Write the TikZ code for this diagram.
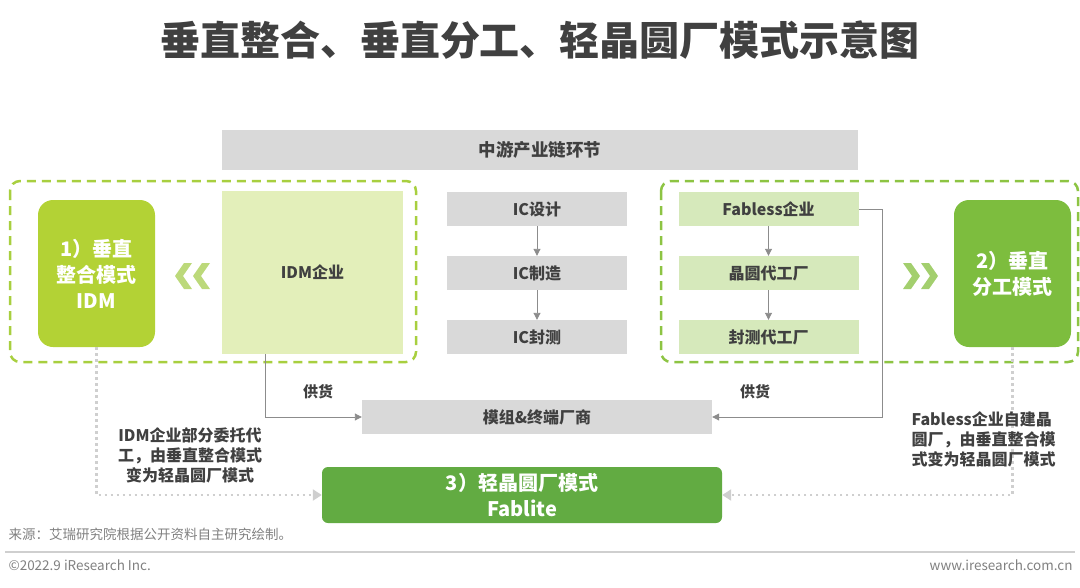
\documentclass[tikz,border=0pt]{standalone}
\usepackage{fontspec}
\setmainfont{Noto Sans CJK SC}
\usetikzlibrary{arrows.meta,positioning}

\definecolor{txtgray}{HTML}{404040}
\definecolor{boxgray}{HTML}{D9D9D9}
\definecolor{idmfill}{HTML}{E3EFBA}
\definecolor{fabfill}{HTML}{D6E9BB}
\definecolor{idmgreen}{HTML}{B3D235}
\definecolor{divgreen}{HTML}{7DBD3E}
\definecolor{litegreen}{HTML}{62AB42}
\definecolor{dashleft}{HTML}{A8CF3F}
\definecolor{dashright}{HTML}{8DC443}
\definecolor{chevleft}{HTML}{BCD97A}
\definecolor{chevright}{HTML}{A3CF6E}
\definecolor{linegray}{HTML}{8C8C8C}
\definecolor{dotgray}{HTML}{CFCFCF}
\definecolor{footgray}{HTML}{808080}

\begin{document}
\begin{tikzpicture}[x=1pt,y=-1pt,
  boxtext/.style={font=\bfseries\fontsize{16}{19}\selectfont, text=txtgray},
  stagebox/.style={boxtext, fill=boxgray, minimum width=180pt, minimum height=34pt, inner sep=0pt},
  fabbox/.style={stagebox, fill=fabfill},
  modebox/.style={font=\bfseries\fontsize{20}{26}\selectfont, text=white, align=center,
    rounded corners=15pt, minimum width=117pt, minimum height=147pt, inner sep=0pt},
  notetext/.style={font=\bfseries\fontsize{16}{20}\selectfont, text=txtgray},
  foottext/.style={font=\fontsize{13.5}{16}\selectfont, text=footgray},
  dashbox/.style={line width=2.5pt, dash pattern=on 9pt off 6pt, rounded corners=10pt},
  link/.style={draw=linegray, line width=0.9pt, -{Triangle[width=7pt,length=7pt]}},
  dotlink/.style={draw=dotgray, line width=2.5pt, dash pattern=on 2.5pt off 3.5pt,
    -{Triangle[width=11pt,length=9pt]}}]
\useasboundingbox (0,0) rectangle (1080,587);

% Title
\node[font=\bfseries\fontsize{40}{40}\selectfont, text=txtgray] (title) at (540,40)
  {垂直整合、垂直分工、轻晶圆厂模式示意图};

% Midstream bar
\node[stagebox, font=\bfseries\fontsize{17.5}{20}\selectfont, minimum width=636pt, minimum height=40pt] (mid) at (540,150) {中游产业链环节};

% Dashed groups
\draw[dashbox, dashleft] (10,181) rectangle (416,362);
\draw[dashbox, dashright] (661,181) rectangle (1078,362);

% Modes
\node[modebox, fill=idmgreen] (idmmode) at (96.5,273.5) {1）垂直\\整合模式\\IDM};
\node[modebox, fill=divgreen] (divmode) at (1012.5,273.5) {2）垂直\\分工模式};

% Chevrons
\foreach \dx in {0,18}{
  \fill[chevleft] (175+\dx,276) -- ++(9,-13) -- ++(8,0) -- ++(-9,13) -- ++(9,13) -- ++(-8,0) -- cycle;
  \fill[chevright] (938-\dx,276) -- ++(-9,-13) -- ++(-8,0) -- ++(9,13) -- ++(-9,13) -- ++(8,0) -- cycle;
}

% IDM
\node[boxtext, fill=idmfill, minimum width=181pt, minimum height=163pt, inner sep=0pt] (idm) at (312.5,272.5) {IDM企业};

% IC chain
\node[stagebox] (icd) at (537,209) {IC设计};
\node[stagebox] (icm) at (537,273) {IC制造};
\node[stagebox] (ict) at (537,337) {IC封测};
\draw[link] (icd) -- (icm);
\draw[link] (icm) -- (ict);

% Fabless chain
\node[fabbox] (fabless) at (768.5,209) {Fabless企业};
\node[fabbox] (foundry) at (768.5,273) {晶圆代工厂};
\node[fabbox] (osat) at (768.5,337) {封测代工厂};
\draw[link] (fabless) -- (foundry);
\draw[link] (foundry) -- (osat);

% Module & terminal makers
\node[stagebox, minimum width=350pt] (oem) at (537,417) {模组\&终端厂商};
\draw[link] ([xshift=-47.5pt]idm.south) |- (oem.west);
\draw[link] (fabless.east) -- ++(24,0) |- (oem.east);
\node[boxtext, font=\bfseries\fontsize{15}{18}\selectfont] (supl) at (318,392) {供货};
\node[boxtext, font=\bfseries\fontsize{15}{18}\selectfont] (supr) at (755,392) {供货};

% Fablite
\node[modebox, fill=litegreen, rounded corners=6pt, minimum width=400pt, minimum height=56pt] (fablite) at (522,495)
  {3）轻晶圆厂模式\\Fablite};
\draw[dotlink] (idmmode.south) |- (fablite.west);
\draw[dotlink] (divmode.south) |- (fablite.east);

% Notes
\node[notetext, align=center] (notel) at (190,455) {IDM企业部分委托代\\工，由垂直整合模式\\变为轻晶圆厂模式};
\node[notetext, align=left, anchor=west] (noter) at (908,439) {Fabless企业自建晶\\圆厂，由垂直整合模\\式变为轻晶圆厂模式};

% Footer
\node[foottext, anchor=west] (src) at (5,534) {来源：艾瑞研究院根据公开资料自主研究绘制。};
\draw[dotgray, line width=1.5pt] (5,552) -- (1075,552);
\node[foottext, anchor=west] (copy) at (5,565) {©2022.9 iResearch Inc.};
\node[foottext, anchor=east] (web) at (1076,565) {www.iresearch.com.cn};

\end{tikzpicture}
\end{document}
